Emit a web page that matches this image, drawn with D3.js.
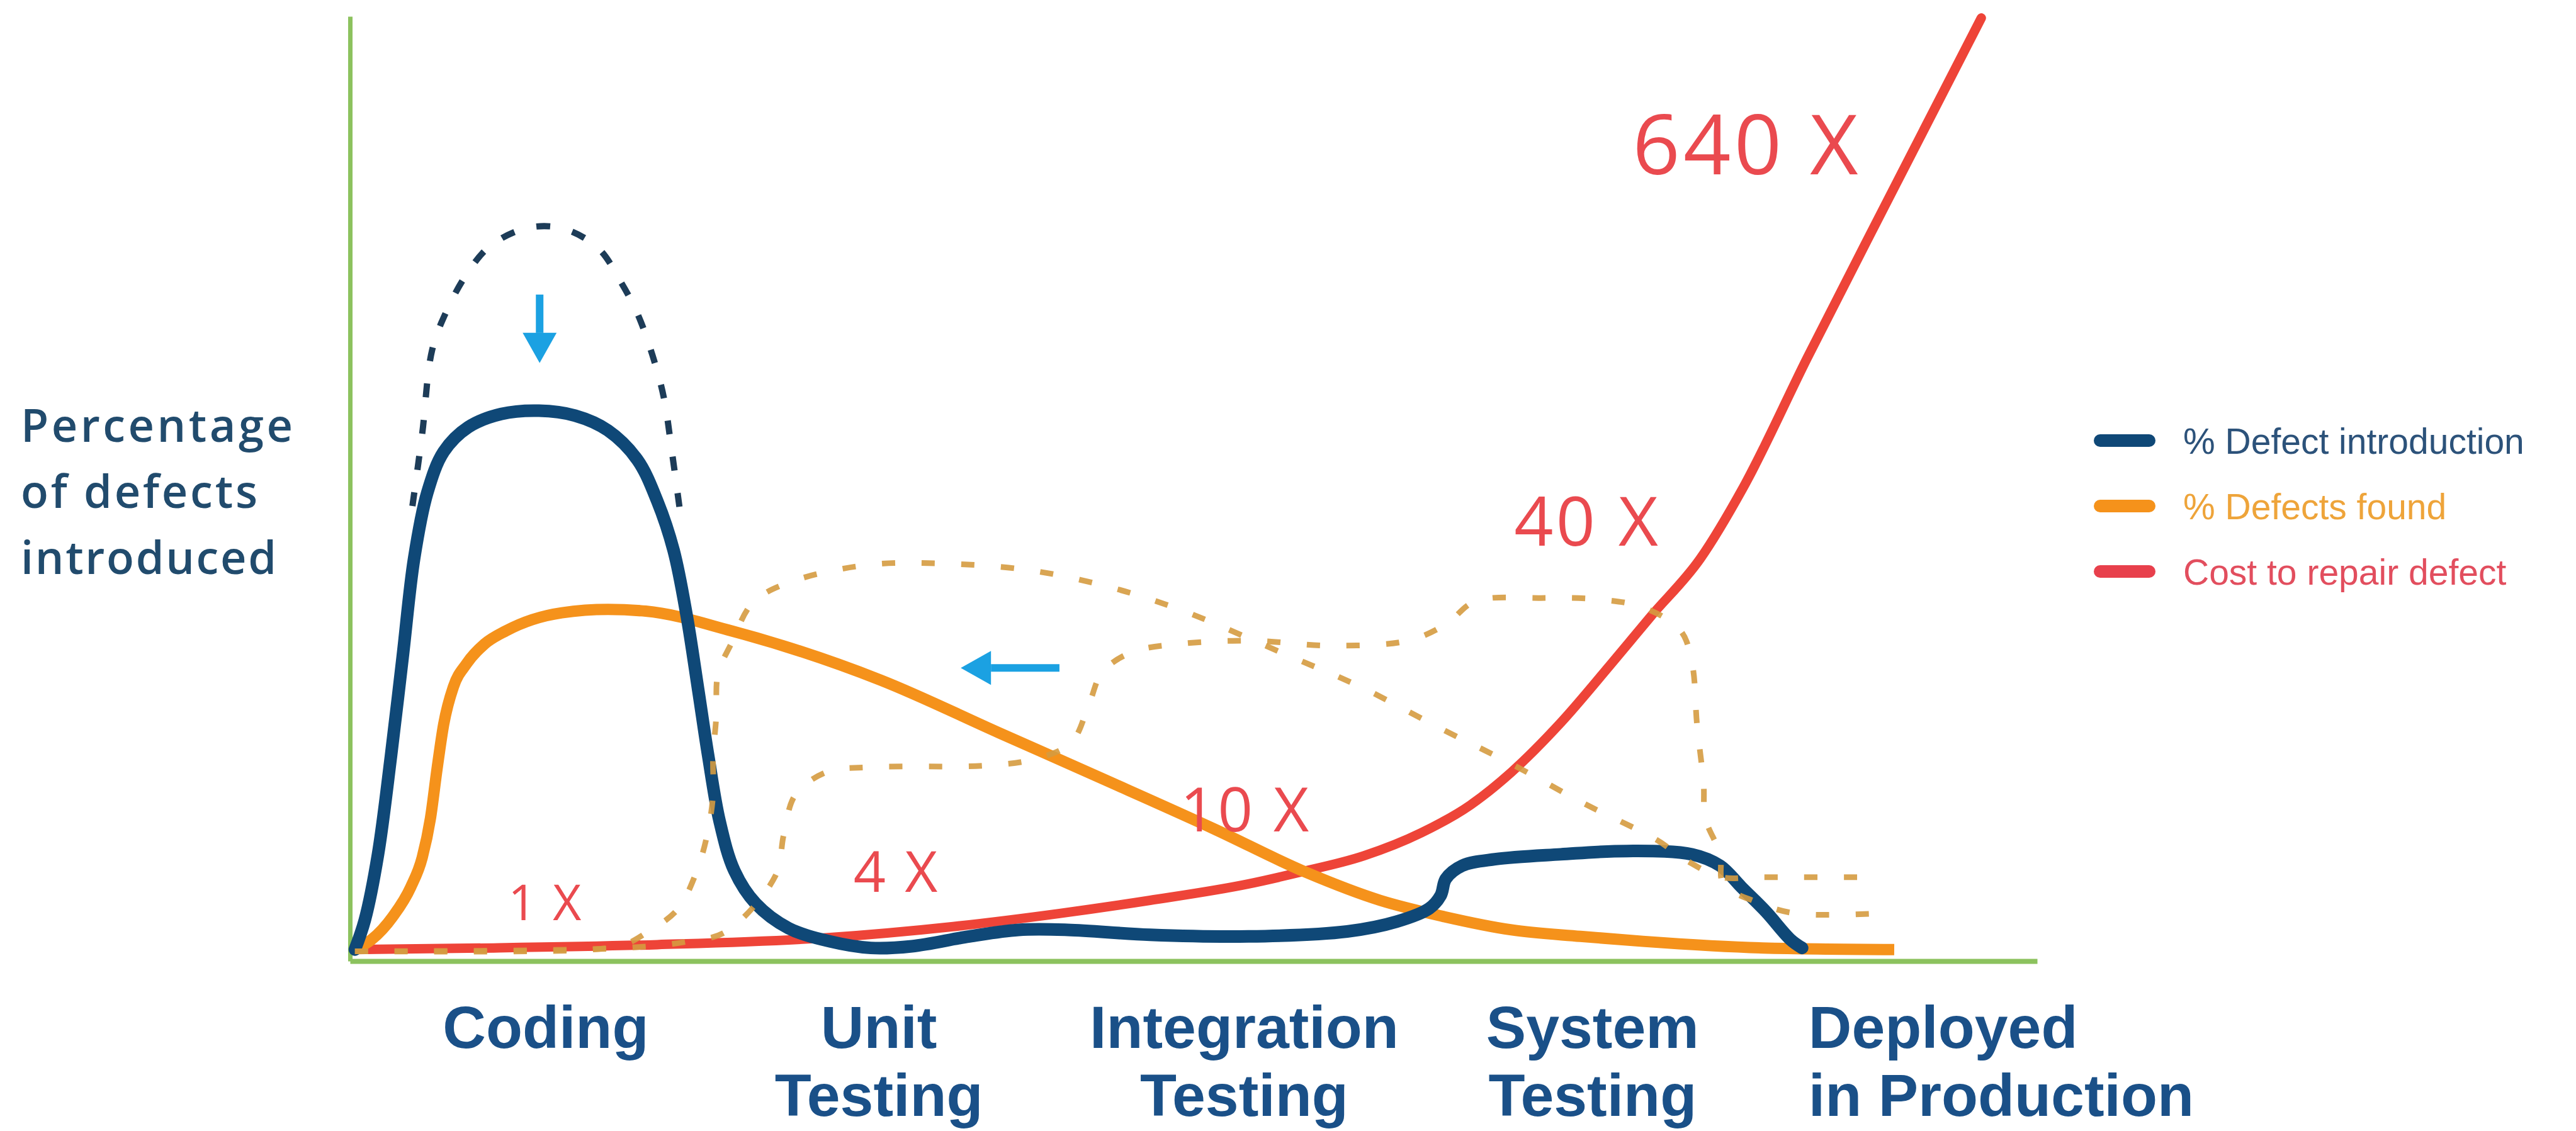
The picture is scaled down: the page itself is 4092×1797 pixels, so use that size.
<!DOCTYPE html>
<html>
<head>
<meta charset="utf-8">
<script src="https://cdn.jsdelivr.net/npm/d3@7"></script>
<style>
  html, body { margin: 0; padding: 0; background: #fff; }
  svg { display: block; }
</style>
</head>
<body>
<script>
var width = 4092,
    height = 1797;

// x: share of the delivery timeline (0-100), y: relative level (0-100)
var stageNames = [["Coding"], ["Unit", "Testing"], ["Integration", "Testing"], ["System", "Testing"], ["Deployed", "in Production"]];
var stagePos = [11.6, 31.35, 53.0, 73.65, 86.45];

// % defect introduction (solid) and the higher peak it is pushed down from (dashed)
var defectIntro = [
  [0.29, 1.22], [0.88, 4.35], [1.66, 11.3], [2.43, 21.74], [3.12, 32.17], [3.8, 42.61], [4.58, 49.57],
  [5.55, 53.91], [7.01, 56.52], [8.96, 57.91], [11.2, 58.26], [13.34, 57.74], [15.29, 56.17], [17.04, 53.04],
  [18.21, 48.7], [19.18, 43.48], [19.96, 36.52], [20.64, 28.7], [21.23, 21.74], [21.91, 14.78], [22.78, 9.57],
  [24.05, 6.09], [26.0, 3.48], [28.43, 2.09], [30.87, 1.39], [33.3, 1.57], [36.71, 2.61], [39.63, 3.3],
  [42.55, 3.3], [47.42, 2.78], [53.26, 2.61], [59.1, 3.13], [62.03, 4.17], [63.97, 5.57], [64.65, 6.96],
  [64.95, 8.7], [65.92, 10.09], [67.87, 10.78], [71.76, 11.3], [75.66, 11.65], [79.55, 11.3], [81.21, 10.09],
  [82.47, 7.83], [83.93, 5.22], [85.39, 2.26], [86.07, 1.39]
];
var defectIntroBefore = [
  [3.7, 48.17], [4.28, 55.83], [4.87, 64.7], [5.74, 68.87], [6.91, 72.7], [8.28, 75.65], [10.42, 77.57],
  [12.56, 77.57], [14.7, 75.48], [16.07, 71.83], [17.04, 68.52], [17.92, 64.17], [18.6, 59.65], [19.08, 53.91],
  [19.57, 47.48]
];

// % defects found (solid) and the two later-found profiles (dotted)
var defectsFound = [
  [0.29, 1.22], [1.27, 2.26], [2.53, 4.7], [3.6, 7.83], [4.28, 10.96], [4.77, 15.13], [5.16, 20.35],
  [5.55, 25.04], [6.13, 29.04], [6.91, 31.48], [7.98, 33.57], [9.25, 34.96], [12.56, 36.87], [15.29, 37.22],
  [17.53, 37.04], [22.59, 34.96], [31.45, 29.74], [38.46, 24.17], [44.6, 19.3], [51.31, 13.91], [56.67, 9.39],
  [61.05, 6.43], [64.85, 4.7], [68.84, 3.3], [72.93, 2.61], [76.63, 2.09], [83.74, 1.39], [91.53, 1.22]
];
var foundLateA = [
  [0.29, 1.04], [14.31, 1.22], [16.26, 1.74], [17.53, 2.96], [19.38, 5.39], [20.45, 9.04], [21.13, 13.04],
  [21.52, 17.57], [21.52, 21.57], [21.71, 25.91], [21.81, 30.43], [22.59, 33.57], [23.86, 37.91], [25.9, 40.0],
  [30.57, 41.91], [34.86, 42.09], [40.21, 41.39], [44.89, 39.65], [49.17, 37.22], [55.6, 32.35], [59.88, 29.04],
  [64.56, 24.7], [68.84, 20.87], [73.12, 16.7], [77.41, 12.87], [79.26, 10.61], [81.31, 8.87], [83.35, 8.87],
  [90.75, 8.87]
];
var foundLateB = [
  [0.29, 1.04], [16.26, 1.39], [20.06, 2.09], [22.3, 3.13], [25.22, 9.04], [25.71, 13.39], [26.39, 17.57],
  [28.24, 20.0], [30.77, 20.52], [37.68, 20.7], [40.6, 21.39], [42.75, 23.13], [43.82, 27.3], [44.6, 30.61],
  [46.35, 32.7], [49.17, 33.57], [53.46, 33.91], [58.13, 33.39], [62.71, 33.91], [64.95, 35.65], [66.7, 38.09],
  [70.59, 38.43], [74.2, 38.26], [76.73, 37.39], [78.87, 34.96], [79.55, 31.48], [79.84, 25.04], [80.23, 18.78],
  [80.33, 15.13], [81.21, 11.3], [81.4, 8.17], [83.35, 6.26], [85.69, 5.04], [90.56, 5.04]
];

// cost to repair a defect
var repairCost = [
  [0.29, 1.22], [8.47, 1.39], [18.21, 1.74], [27.95, 2.43], [35.74, 3.65], [42.06, 5.04], [47.42, 6.43],
  [53.26, 8.17], [56.28, 9.39], [60.08, 11.13], [63.49, 13.57], [66.41, 16.52], [68.84, 20.0], [71.76, 25.22],
  [74.68, 31.3], [77.12, 36.52], [80.04, 42.61], [82.57, 50.09], [86.37, 63.83], [91.24, 80.87], [96.69, 99.83]
];
var costMultiplier = [1, 4, 10, 40, 640];
var costLabelAt = [[11.6, 4.35], [32.4, 7.3], [53.1, 13.7], [73.35, 44.0], [82.8, 83.3]];

// shift arrows: [tail, tip]
var shiftArrows = [
  [[11.24, 70.55], [11.24, 63.3]],
  [[42.05, 31.03], [36.2, 31.03]]
];

var legendLabels = ["% Defect introduction", "% Defects found", "Cost to repair defect"];
var yTitle = ["Percentage", "of defects", "introduced"];

var navy = "#0f4877",
    orange = "#f5921b",
    red = "#ee4438",
    ochre = "#d59b40",
    green = "#8cc25e",
    sky = "#1ba1e2",
    labelBlue = "#1a5088";

var svg = d3.select("body").append("svg")
    .attr("width", width)
    .attr("height", height);

svg.append("rect").attr("width", width).attr("height", height).attr("fill", "#fff");

var x = d3.scaleLinear().domain([0, 100]).range([556, 3236]);
var y = d3.scaleLinear().domain([0, 100]).range([1527, 26]);

var line = d3.line()
    .x(function(d) { return x(d[0]); })
    .y(function(d) { return y(d[1]); })
    .curve(d3.curveCatmullRom.alpha(0.5));

// smoother for the series that only move forward in x
var smooth = d3.line()
    .x(function(d) { return x(d[0]); })
    .y(function(d) { return y(d[1]); })
    .curve(d3.curveMonotoneX);

// axes: plain green lines, no ticks
svg.append("g")
    .attr("transform", "translate(0," + y(0) + ")")
    .call(d3.axisBottom(x).tickValues([]).tickSizeOuter(0))
    .call(function(g) { g.select(".domain").attr("stroke", green).attr("stroke-width", 8); });

svg.append("g")
    .attr("transform", "translate(" + x(0) + ",0)")
    .call(d3.axisLeft(y).tickValues([]).tickSizeOuter(0))
    .call(function(g) { g.select(".domain").attr("stroke", green).attr("stroke-width", 7); });

// solid curves
svg.append("path").datum(repairCost)
    .attr("d", smooth).attr("fill", "none")
    .attr("stroke", red).attr("stroke-width", 15).attr("stroke-linecap", "round");

svg.append("path").datum(defectsFound)
    .attr("d", smooth).attr("fill", "none")
    .attr("stroke", orange).attr("stroke-width", 18).attr("stroke-linecap", "butt");

svg.append("path").datum(defectIntro)
    .attr("d", line).attr("fill", "none")
    .attr("stroke", navy).attr("stroke-width", 20).attr("stroke-linecap", "round");

// dotted curves
svg.append("path").datum(defectIntroBefore)
    .attr("d", line).attr("fill", "none")
    .attr("stroke", "#1d3c58").attr("stroke-width", 10)
    .attr("stroke-dasharray", "22 36");

svg.selectAll(".late")
    .data([foundLateA, foundLateB])
    .enter().append("path")
    .attr("class", "late")
    .attr("d", line).attr("fill", "none")
    .attr("stroke", ochre).attr("stroke-width", 9).attr("opacity", 0.9)
    .attr("stroke-dasharray", "21 42");

// arrows
shiftArrows.forEach(function(a) {
  var x0 = x(a[0][0]), y0 = y(a[0][1]), x1 = x(a[1][0]), y1 = y(a[1][1]);
  var len = Math.hypot(x1 - x0, y1 - y0), ux = (x1 - x0) / len, uy = (y1 - y0) / len;
  var head = 48, half = 27;
  var bx = x1 - ux * head, by = y1 - uy * head;
  svg.append("line")
      .attr("x1", x0).attr("y1", y0).attr("x2", bx).attr("y2", by)
      .attr("stroke", sky).attr("stroke-width", 12);
  svg.append("path")
      .attr("d", "M" + x1 + "," + y1 + "L" + (bx - uy * half) + "," + (by + ux * half) +
                 "L" + (bx + uy * half) + "," + (by - ux * half) + "Z")
      .attr("fill", sky);
});

// cost multipliers
var labelSize = d3.scaleLog().domain([1, 640]).range([78, 132]);
svg.selectAll(".cost")
    .data(costMultiplier)
    .enter().append("text")
    .attr("class", "cost")
    .attr("x", function(d, i) { return x(costLabelAt[i][0]); })
    .attr("y", function(d, i) { return y(costLabelAt[i][1]); })
    .attr("text-anchor", "middle")
    .attr("font-family", "'Open Sans', sans-serif")
    .attr("font-weight", 500)
    .attr("font-size", function(d) { return labelSize(d); })
    .attr("letter-spacing", function(d) { return labelSize(d) * 0.04; })
    .attr("fill", "#ea4a4f")
    .text(function(d) { return d + " X"; });

// stage labels
var stage = svg.selectAll(".stage")
    .data(stageNames)
    .enter().append("text")
    .attr("class", "stage")
    .attr("font-family", "'Liberation Sans', Arial, sans-serif")
    .attr("font-weight", "bold")
    .attr("font-size", 95)
    .attr("fill", labelBlue)
    .attr("text-anchor", function(d, i) { return i === stageNames.length - 1 ? "start" : "middle"; });

stage.selectAll("tspan")
    .data(function(d, i) { return d.map(function(t) { return {t: t, i: i}; }); })
    .enter().append("tspan")
    .attr("x", function(d) { return x(stagePos[d.i]); })
    .attr("y", function(d, j) { return 1665 + j * 108; })
    .text(function(d) { return d.t; });

// y title
var titleWidths = [432, 376, 406];
svg.append("g").selectAll("text")
    .data(yTitle)
    .enter().append("text")
    .attr("x", 33)
    .attr("y", function(d, i) { return 702 + i * 105; })
    .attr("font-family", "'Open Sans', sans-serif")
    .attr("font-weight", 600)
    .attr("font-size", 72)
    .attr("fill", "#214b6d")
    .attr("textLength", function(d, i) { return titleWidths[i]; })
    .attr("lengthAdjust", "spacing")
    .text(function(d) { return d; });

// legend
var legendColors = [navy, orange, "#e8404c"],
    legendText = ["#2c527a", "#eea43a", "#e24e5e"];
var legend = svg.selectAll(".legend")
    .data(legendLabels)
    .enter().append("g")
    .attr("class", "legend")
    .attr("transform", function(d, i) { return "translate(3326," + (700 + i * 104) + ")"; });

legend.append("line")
    .attr("x1", 10).attr("x2", 88)
    .attr("stroke", function(d, i) { return legendColors[i]; })
    .attr("stroke-width", 20).attr("stroke-linecap", "round");

legend.append("text")
    .attr("x", 142).attr("dy", "0.36em")
    .attr("font-family", "'Liberation Sans', Arial, sans-serif")
    .attr("font-size", 57)
    .attr("fill", function(d, i) { return legendText[i]; })
    .text(function(d) { return d; });
</script>
</body>
</html>
